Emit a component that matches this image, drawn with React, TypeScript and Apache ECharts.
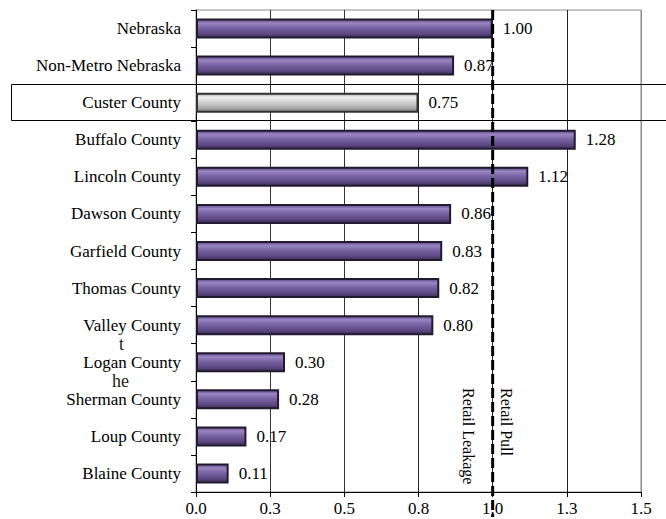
import React, { useEffect, useRef } from "react";
import * as echarts from "echarts";

const categories = [
  "Nebraska",
  "Non-Metro Nebraska",
  "Custer County",
  "Buffalo County",
  "Lincoln County",
  "Dawson County",
  "Garfield County",
  "Thomas County",
  "Valley County",
  "Logan County",
  "Sherman County",
  "Loup County",
  "Blaine County",
];
const values = [1.0, 0.87, 0.75, 1.28, 1.12, 0.86, 0.83, 0.82, 0.8, 0.3, 0.28, 0.17, 0.11];
const highlighted = "Custer County";
const xTickLabels = ["0.0", "0.3", "0.5", "0.8", "1.0", "1.3", "1.5"];
const thresholdValue = 1.0;
const leftNote = "Retail Leakage";
const rightNote = "Retail Pull";
const fragments = ["t", "he"];

const FONT = "Liberation Serif";

export default function App() {
  const ref = useRef<HTMLDivElement>(null);
  useEffect(() => {
    if (!ref.current) return;
    const chart = echarts.init(ref.current, undefined, { renderer: "svg" });
    const purple = new echarts.graphic.LinearGradient(0, 0, 0, 1, [
      { offset: 0, color: "#5a4682" },
      { offset: 0.2, color: "#9a86c2" },
      { offset: 0.45, color: "#7a64a6" },
      { offset: 0.8, color: "#5b477f" },
      { offset: 1, color: "#3b2c55" },
    ]);
    const gray = new echarts.graphic.LinearGradient(0, 0, 0, 1, [
      { offset: 0, color: "#a8a8a8" },
      { offset: 0.2, color: "#f2f2f2" },
      { offset: 0.45, color: "#d2d2d2" },
      { offset: 0.8, color: "#ababab" },
      { offset: 1, color: "#7c7c7c" },
    ]);
    const gridTop = 10;
    const gridBottom = 27;
    chart.setOption({
      animation: false,
      backgroundColor: "#ffffff",
      textStyle: { fontFamily: FONT },
      grid: {
        left: 196,
        right: 25,
        top: gridTop,
        bottom: gridBottom,
        show: true,
        borderColor: "#8a8a8a",
        borderWidth: 1,
        backgroundColor: "transparent",
      },
      xAxis: {
        type: "value",
        min: 0,
        max: 1.5,
        interval: 0.25,
        axisLine: { show: true, lineStyle: { color: "#000", width: 1 } },
        axisTick: { show: true, length: 5, lineStyle: { color: "#000" } },
        axisLabel: {
          margin: 8,
          color: "#000",
          fontFamily: FONT,
          fontSize: 17,
          formatter: (v: number) => xTickLabels[Math.round(v / 0.25)] ?? "",
        },
        splitLine: {
          show: true,
          lineStyle: {
            color: ["#000", "#333", "#333", "#222", "#222", "#222", "#8a8a8a"],
            width: 1,
          },
        },
      },
      yAxis: {
        type: "category",
        inverse: true,
        data: categories,
        axisLine: { show: true, lineStyle: { color: "#000", width: 1 } },
        axisTick: { show: true, length: 5, lineStyle: { color: "#000" } },
        axisLabel: { margin: 15, color: "#000", fontFamily: FONT, fontSize: 17 },
        splitLine: { show: false },
      },
      series: [
        {
          type: "bar",
          barWidth: 20,
          data: values.map((v, i) => ({
            value: v,
            itemStyle: {
              color: categories[i] === highlighted ? gray : purple,
              borderColor: categories[i] === highlighted ? "#333" : "#221a2e",
              borderWidth: 2,
            },
          })),
          label: {
            show: true,
            position: "right",
            distance: 10,
            color: "#000",
            fontFamily: FONT,
            fontSize: 17,
            formatter: (p: any) => Number(p.value).toFixed(2),
          },
          z: 2,
        },
      ],
    });

    const xLine = chart.convertToPixel({ xAxisIndex: 0 }, thresholdValue) as number;
    const hiIdx = categories.indexOf(highlighted);
    const hiCenter = chart.convertToPixel({ yAxisIndex: 0 }, categories[hiIdx]) as number;
    const band = (519 - gridTop - gridBottom) / categories.length;
    const boxTop = Math.round(hiCenter - band / 2) + 0.5;
    const boxBottom = Math.round(hiCenter + band / 2) - 0.5;
    // fragments sit in the gaps between the label rows (Valley/Logan, Logan/Sherman)
    const yValley = chart.convertToPixel({ yAxisIndex: 0 }, "Valley County") as number;
    const yLogan = chart.convertToPixel({ yAxisIndex: 0 }, "Logan County") as number;
    const ySherman = chart.convertToPixel({ yAxisIndex: 0 }, "Sherman County") as number;

    chart.setOption({
      graphic: [
        {
          type: "rect",
          z: 1,
          silent: true,
          shape: { x: 11.5, y: boxTop, width: 700, height: boxBottom - boxTop },
          style: { fill: "none", stroke: "#000", lineWidth: 1 },
        },
        {
          type: "line",
          z: 100,
          silent: true,
          shape: { x1: xLine, y1: gridTop, x2: xLine, y2: 517 },
          style: { stroke: "#000", lineWidth: 3, lineDash: [10, 4] },
        },
        {
          type: "text",
          z: 100,
          x: xLine - 24,
          y: 388,
          rotation: -Math.PI / 2,
          style: {
            text: leftNote,
            fill: "#000",
            fontFamily: FONT,
            fontSize: 16,
            align: "left",
            verticalAlign: "middle",
          },
        },
        {
          type: "text",
          z: 100,
          x: xLine + 14,
          y: 388,
          rotation: -Math.PI / 2,
          style: {
            text: rightNote,
            fill: "#000",
            fontFamily: FONT,
            fontSize: 16,
            align: "left",
            verticalAlign: "middle",
          },
        },
        {
          type: "text",
          z: 100,
          x: 124,
          y: (yValley + yLogan) / 2,
          style: {
            text: fragments[0],
            fill: "#222",
            fontFamily: FONT,
            fontSize: 18,
            align: "right",
            verticalAlign: "middle",
          },
        },
        {
          type: "text",
          z: 100,
          x: 129,
          y: (yLogan + ySherman) / 2,
          style: {
            text: fragments[1],
            fill: "#222",
            fontFamily: FONT,
            fontSize: 18,
            align: "right",
            verticalAlign: "middle",
          },
        },
      ],
    });

    return () => chart.dispose();
  }, []);
  return (
    <div
      ref={ref}
      style={{ position: "fixed", left: 0, top: 0, width: 666, height: 519, background: "#fff" }}
    />
  );
}
